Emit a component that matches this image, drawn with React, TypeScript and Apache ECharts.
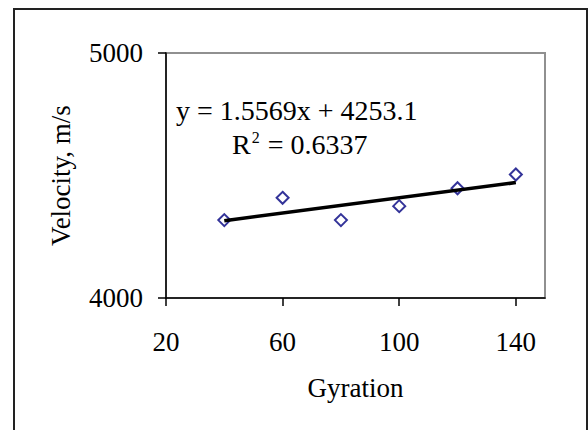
import React, { useEffect, useRef } from "react";
import * as echarts from "echarts";

const gyration = [40, 60, 80, 100, 120, 140];
const velocity = [4318, 4409, 4318, 4375, 4448, 4504];
const trendX = [40, 140];
const slope = 1.5569;
const intercept = 4253.1;
const xTicks = [20, 60, 100, 140];
const yTicks = [4000, 5000];
const eqLine1 = "y = 1.5569x + 4253.1";
const eqLine2 = "R{sup|2} = 0.6337";

const FONT = "'Liberation Serif', 'Times New Roman', serif";

export default function App() {
  const ref = useRef<HTMLDivElement>(null);
  useEffect(() => {
    if (!ref.current) return;
    const chart = echarts.init(ref.current, null, { renderer: "svg" });
    const scatterData = gyration.map((x, i) => [x, velocity[i]]);
    const trendData = trendX.map((x) => [x, slope * x + intercept]);
    chart.setOption({
      animation: false,
      backgroundColor: "#ffffff",
      textStyle: { fontFamily: FONT },
      grid: {
        left: 166,
        right: 43,
        top: 53,
        bottom: 132,
        show: true,
        borderColor: "#909090",
        borderWidth: 2,
        containLabel: false,
      },
      xAxis: {
        type: "value",
        min: 20,
        max: 150,
        interval: 40,
        name: "Gyration",
        nameLocation: "middle",
        nameGap: 76,
        nameTextStyle: { fontFamily: FONT, fontSize: 27, color: "#000" },
        axisLine: { show: true, lineStyle: { color: "#000", width: 1.5 } },
        axisTick: {
          show: true,
          inside: false,
          length: 8,
          customValues: xTicks,
          lineStyle: { color: "#000", width: 1.5 },
        },
        axisLabel: {
          customValues: xTicks,
          margin: 30,
          fontFamily: FONT,
          fontSize: 27,
          color: "#000",
          formatter: (v: number) => String(v),
        },
        splitLine: { show: false },
      },
      yAxis: {
        type: "value",
        min: 4000,
        max: 5000,
        interval: 1000,
        name: "Velocity, m/s",
        nameLocation: "middle",
        nameRotate: 90,
        nameGap: 92,
        nameTextStyle: { fontFamily: FONT, fontSize: 27, color: "#000" },
        axisLine: { show: true, lineStyle: { color: "#000", width: 1.5 } },
        axisTick: {
          show: true,
          inside: false,
          length: 8,
          customValues: yTicks,
          lineStyle: { color: "#000", width: 1.5 },
        },
        axisLabel: {
          customValues: yTicks,
          margin: 23,
          fontFamily: FONT,
          fontSize: 27,
          color: "#000",
          formatter: (v: number) => String(v),
        },
        splitLine: { show: false },
      },
      graphic: [
        {
          type: "rect",
          shape: { x: 14, y: 9, width: 573, height: 440 },
          style: { fill: "none", stroke: "#222", lineWidth: 2 },
          silent: true,
        },
        {
          type: "text",
          x: 176,
          y: 110,
          style: {
            text: eqLine1,
            font: `28px ${FONT}`,
            fill: "#000",
            textAlign: "left",
            textVerticalAlign: "middle",
          },
        },
        {
          type: "text",
          x: 232,
          y: 144,
          style: {
            text: eqLine2,
            font: `28px ${FONT}`,
            fill: "#000",
            textAlign: "left",
            textVerticalAlign: "middle",
            rich: {
              sup: {
                fontSize: 16,
                fontFamily: FONT,
                fill: "#000",
                padding: [0, 1, 14, 1],
              },
            },
          },
        },
      ],
      series: [
        {
          type: "scatter",
          data: scatterData,
          symbol: "diamond",
          symbolSize: 12,
          itemStyle: { color: "rgba(255,255,255,0)", borderColor: "#000080", borderWidth: 2 },
          z: 2,
        },
        {
          type: "line",
          data: trendData,
          showSymbol: false,
          symbol: "none",
          lineStyle: { color: "#000", width: 3.5 },
          z: 3,
        },
      ],
    });
    return () => chart.dispose();
  }, []);
  return (
    <div
      ref={ref}
      style={{ position: "fixed", left: 0, top: 0, width: 588, height: 430 }}
    />
  );
}
